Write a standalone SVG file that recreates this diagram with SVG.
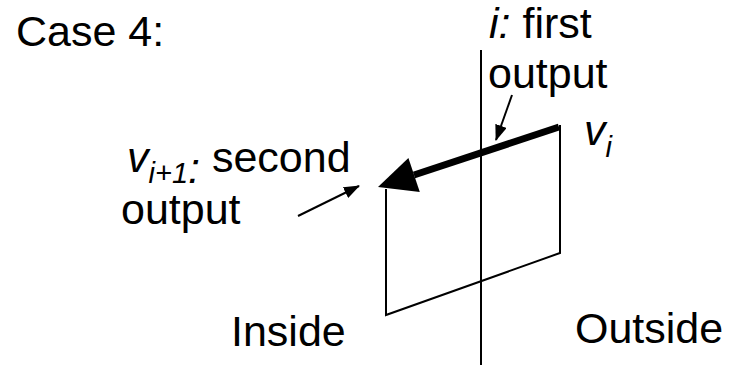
<svg xmlns="http://www.w3.org/2000/svg" width="730" height="365" viewBox="0 0 730 365">
<style>
  text { font-family: "Liberation Sans", Arial, sans-serif; font-size: 43px; fill: #000; }
  .it { font-style: italic; }
  .sub { font-size: 29px; font-style: italic; }
  .thin { stroke: #000; stroke-width: 2; fill: none; }
  .thick { stroke: #000; stroke-width: 7; fill: none; }
</style>
<defs>
  <marker id="ah" markerUnits="userSpaceOnUse" markerWidth="16" markerHeight="12" refX="15" refY="6" orient="auto">
    <path d="M0,0 L16,6 L0,12 z" fill="#000"/>
  </marker>
</defs>
<rect width="730" height="365" fill="#fff"/>
<g id="title"><text x="16" y="46">Case 4:</text></g>
<g id="boundary">
  <line class="thin" x1="481" y1="50" x2="481" y2="365"/>
</g>
<g id="polygon">
  <polyline class="thin" points="386,189 386,315 560,253 560,125"/>
</g>
<g id="edge">
  <line class="thick" x1="559" y1="127" x2="414" y2="175"/>
  <polygon points="378,187 408.4,157.9 419.8,192.1" fill="#000"/>
</g>
<g id="label-first">
  <text x="489" y="38"><tspan class="it">i:</tspan> first</text>
  <text x="488" y="88">output</text>
</g>
<g id="label-vi">
  <text x="584" y="145"><tspan class="it">v</tspan><tspan class="sub" dy="12">i</tspan></text>
</g>
<g id="label-second">
  <text x="127" y="172"><tspan class="it">v</tspan><tspan class="sub" dy="11">i+1</tspan><tspan class="it">:</tspan><tspan dy="-11"> second</tspan></text>
  <text x="121" y="224">output</text>
</g>
<g id="label-inside"><text x="231" y="346">Inside</text></g>
<g id="label-outside"><text x="575" y="343">Outside</text></g>
<g id="connectors">
  <line class="thin" x1="512" y1="95" x2="496" y2="140" marker-end="url(#ah)"/>
  <line class="thin" x1="298" y1="216" x2="359" y2="186" marker-end="url(#ah)"/>
</g>
</svg>
